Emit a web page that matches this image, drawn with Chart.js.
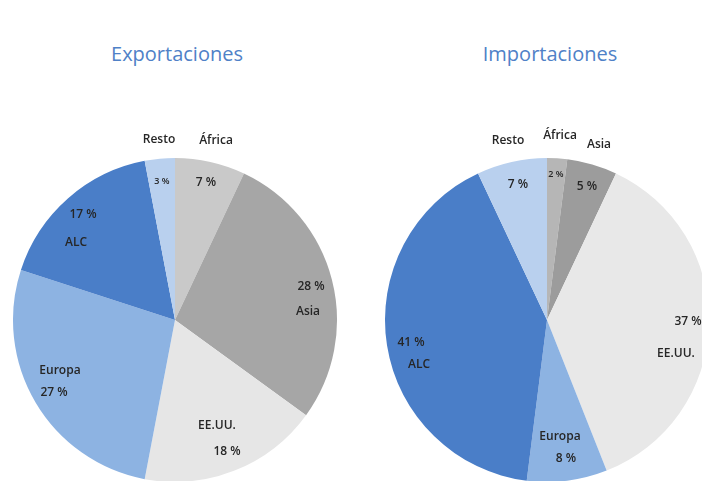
<!DOCTYPE html>
<html>
<head>
<meta charset="utf-8">
<script src="https://cdn.jsdelivr.net/npm/chart.js@4"></script>
<style>
  html, body { margin: 0; padding: 0; width: 702px; height: 481px; overflow: hidden; background: #fff; }
  .title { position: absolute; font-family: "Open Sans", sans-serif; font-size: 20px; color: #4f81c7; transform: translateX(-50%); white-space: nowrap; }
  canvas { position: absolute; }
</style>
</head>
<body>
<div class="title" style="left:177px; top:40px;">Exportaciones</div>
<div class="title" style="left:550px; top:40px;">Importaciones</div>
<canvas id="chartExp" width="340" height="420" style="left:5px; top:110px;"></canvas>
<canvas id="chartImp" width="340" height="420" style="left:377px; top:110px;"></canvas>
<script>
// data
const regions = ['África', 'Asia', 'EE.UU.', 'Europa', 'ALC', 'Resto'];
const exportShares = [7, 28, 18, 27, 17, 3];
const importShares = [2, 5, 37, 8, 41, 7];

const expColors = ['#c9c9c9', '#a6a6a6', '#e6e6e6', '#8db3e2', '#4a7ec8', '#b9d0ee'];
const impColors = ['#b6b6b6', '#9c9c9c', '#e8e8e8', '#8db3e2', '#4a7ec8', '#b9d0ee'];

// label placement, px from pie centre: [nameX, nameY, pctX, pctY]
const expLabelPos = [
  [41, -179, 31, -137],
  [133, -8, 136, -33],
  [42, 106, 52, 132],
  [-115, 51, -121, 73],
  [-99, -77, -92, -105],
  [-16, -180, -13, -139]
];
const impLabelPos = [
  [13, -184, 9, -146],
  [52, -175, 40, -133],
  [129, 34, 141, 2],
  [13, 117, 19, 139],
  [-128, 45, -136, 23],
  [-39, -179, -29, -135]
];

function labelPlugin(pos) {
  return {
    id: 'sliceLabels',
    afterDraw(chart) {
      const ctx = chart.ctx;
      const a = chart.chartArea;
      const cx = (a.left + a.right) / 2;
      const cy = (a.top + a.bottom) / 2;
      const vals = chart.data.datasets[0].data;
      ctx.save();
      ctx.fillStyle = '#262626';
      ctx.textAlign = 'center';
      ctx.textBaseline = 'middle';
      chart.data.labels.forEach((name, i) => {
        const p = pos[i];
        ctx.font = '600 12px "Open Sans", sans-serif';
        ctx.fillText(name, cx + p[0], cy + p[1]);
        ctx.font = vals[i] < 4 ? '600 9px "Open Sans", sans-serif' : '600 12px "Open Sans", sans-serif';
        ctx.fillText(vals[i] + ' %', cx + p[2], cy + p[3]);
      });
      ctx.restore();
    }
  };
}

function makePie(id, values, colors, pos) {
  return new Chart(document.getElementById(id).getContext('2d'), {
    type: 'pie',
    data: {
      labels: regions,
      datasets: [{
        data: values,
        backgroundColor: colors,
        borderWidth: 0
      }]
    },
    options: {
      responsive: false,
      animation: false,
      layout: { padding: { top: 48, bottom: 48, left: 8, right: 8 } },
      plugins: {
        legend: { display: false },
        tooltip: { enabled: false }
      }
    },
    plugins: [labelPlugin(pos)]
  });
}

makePie('chartExp', exportShares, expColors, expLabelPos);
makePie('chartImp', importShares, impColors, impLabelPos);
</script>
</body>
</html>
